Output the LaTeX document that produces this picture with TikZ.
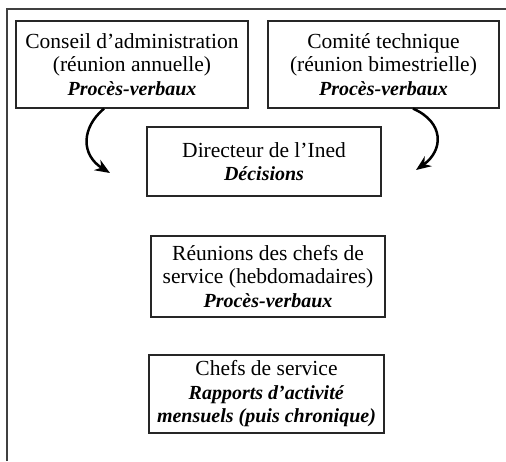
\documentclass[tikz,border=0pt]{standalone}
\usepackage{fontspec}
\setmainfont{Liberation Serif}
\usetikzlibrary{arrows.meta}
\newcommand{\bi}[1]{{\fontsize{20}{23.5}\selectfont\textbf{\textit{#1}}}}
\begin{document}
\begin{tikzpicture}[x=1pt,y=-1pt,
  box/.style={draw=black!85,line width=1.2pt,align=center,inner sep=0pt,
    font=\fontsize{21.5}{23.5}\selectfont},
  arr/.style={line width=2.5pt,-{Stealth[length=15pt,width=12pt]}}]
\useasboundingbox (0,0) rectangle (506,461);
\draw[line width=1.5pt,black!75] (7,461) -- (7,9) -- (506,9);
\node[box,minimum width=232pt,minimum height=87pt] (b1) at (132,64.5)
  {Conseil d’administration\\(réunion annuelle)\\\bi{Procès-verbaux}};
\node[box,minimum width=231pt,minimum height=87pt] (b2) at (383.5,64.5)
  {Comité technique\\(réunion bimestrielle)\\\bi{Procès-verbaux}};
\node[box,minimum width=234pt,minimum height=69pt] (b3) at (264,161.5)
  {Directeur de l’Ined\\\bi{Décisions}};
\node[box,minimum width=234pt,minimum height=81pt] (b4) at (268,276.5)
  {Réunions des chefs de\\service (hebdomadaires)\\\bi{Procès-verbaux}};
\node[box,minimum width=235pt,minimum height=78pt] (b5) at (266.5,394)
  {Chefs de service\\\bi{Rapports d’activité}\\\bi{mensuels (puis chronique)}};
\coordinate (s1) at (b1.south -| 104,0);
\coordinate (s2) at (b2.south -| 413,0);
\coordinate (t1) at (110,173);
\coordinate (t2) at (416,170);
\draw[arr] (s1) .. controls (81,128) and (81,155) .. (t1);
\draw[arr] (s2) .. controls (444,122) and (444,150) .. (t2);
\end{tikzpicture}
\end{document}
